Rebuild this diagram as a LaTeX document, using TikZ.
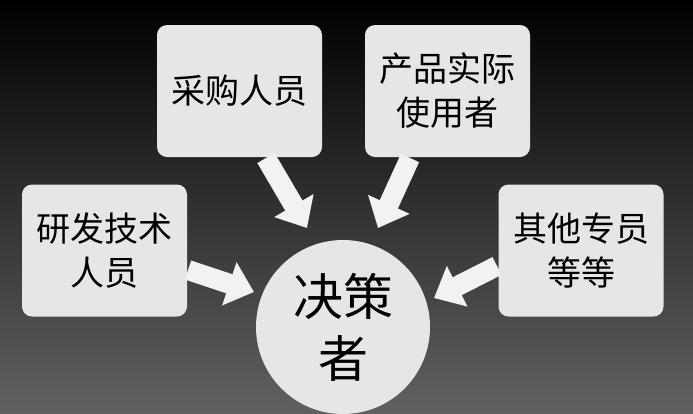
\documentclass[tikz,border=0pt]{standalone}
\usepackage{fontspec}
\setmainfont{Noto Sans CJK SC}
\usetikzlibrary{arrows.meta}
\definecolor{boxc}{HTML}{E6E6E6}
\definecolor{arrc}{HTML}{F2F2F2}
\tikzset{
  boxn/.style={fill=boxc,rounded corners=10pt,minimum width=165pt,minimum height=132pt,font=\fontsize{34}{44}\selectfont,align=center,inner sep=0pt},
  blk/.style={draw=arrc,line width=20pt,-{Triangle[length=26pt,width=44pt]},arrc}
}
\begin{document}
\begin{tikzpicture}[x=1pt,y=-1pt]
\shade[top color=black,bottom color=black!62!white] (0,0) rectangle (693,413);
\useasboundingbox (0,0) rectangle (693,413);
\node[boxn] (a) at (104.5,250.5) {研发技术\\人员};
\node[boxn] (b) at (239.5,91) {采购人员};
\node[boxn] (c) at (447.5,91) {产品实际\\使用者};
\node[boxn] (d) at (581,250.5) {其他专员\\等等};
\node[circle,fill=boxc,minimum size=174pt,inner sep=0pt,font=\fontsize{50}{62}\selectfont,align=center] (z) at (343,327) {决策\\者};
\coordinate (a1) at (188,270); \coordinate (a2) at (254,292);
\coordinate (b1) at (266,158); \coordinate (b2) at (307,228);
\coordinate (c1) at (410,158); \coordinate (c2) at (378,228);
\coordinate (d1) at (497,266); \coordinate (d2) at (434,298);
\draw[blk] (a1) -- (a2);
\draw[blk] (b1) -- (b2);
\draw[blk] (c1) -- (c2);
\draw[blk] (d1) -- (d2);
\end{tikzpicture}
\end{document}
